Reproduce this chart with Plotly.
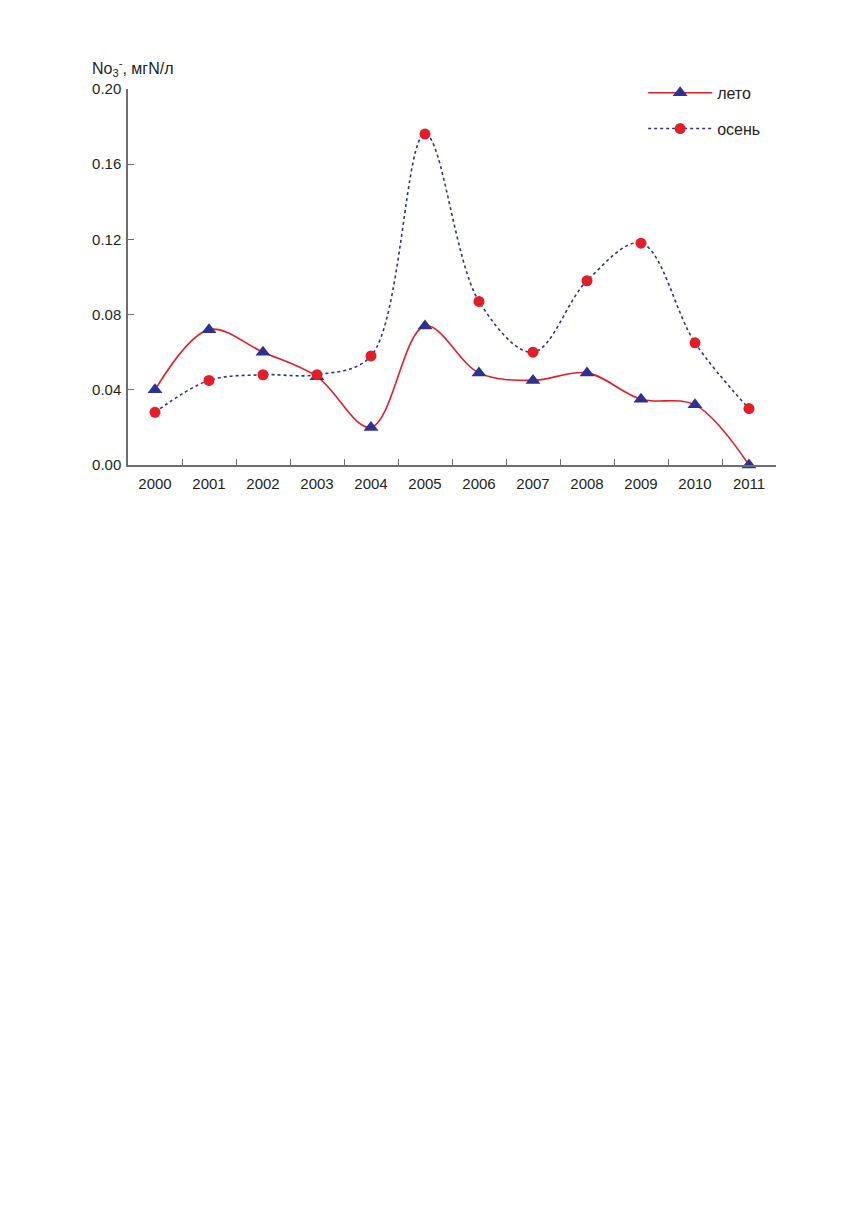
import plotly.graph_objects as go

years = ["2000", "2001", "2002", "2003", "2004", "2005",
         "2006", "2007", "2008", "2009", "2010", "2011"]
summer = [0.040, 0.072, 0.060, 0.047, 0.020, 0.074,
          0.049, 0.045, 0.049, 0.035, 0.032, 0.000]
autumn = [0.028, 0.045, 0.048, 0.048, 0.058, 0.176,
          0.087, 0.060, 0.098, 0.118, 0.065, 0.030]
y_ticks = [0.00, 0.04, 0.08, 0.12, 0.16, 0.20]

red = "#e41e26"
navy = "#2e3192"
axis_grey = "#6d6e71"
font = dict(family="Liberation Sans, Arial, sans-serif", size=15, color="#231f20")

fig = go.Figure()

fig.add_trace(go.Scatter(
    x=years,
    y=summer,
    mode="lines+markers",
    line=dict(color=red, width=1.6, shape="spline", smoothing=1.0),
    marker=dict(symbol="triangle-up", size=13, color=navy),
    cliponaxis=False,
    legendgroup="summer",
    name="лето",
))
fig.add_trace(go.Scatter(
    x=years,
    y=autumn,
    mode="lines+markers",
    line=dict(color=navy, width=1.6, dash="dot", shape="spline", smoothing=1.0),
    marker=dict(symbol="circle", size=11, color=red),
    cliponaxis=False,
    legendgroup="autumn",
    name="осень",
))

fig.update_xaxes(
    type="category",
    range=[-0.5, 11.5],
    showline=True,
    linecolor=axis_grey,
    linewidth=1.5,
    ticks="inside",
    tickson="boundaries",
    ticklen=6,
    tickcolor=axis_grey,
    ticklabelstandoff=4,
    showgrid=False,
    zeroline=False,
    tickfont=font,
)
fig.update_yaxes(
    range=[0, 0.2],
    tickvals=y_ticks,
    tickformat=".2f",
    showline=True,
    linecolor=axis_grey,
    linewidth=1.5,
    ticks="inside",
    ticklen=6,
    tickcolor=axis_grey,
    ticklabelstandoff=2,
    showgrid=False,
    zeroline=False,
    tickfont=font,
)

# axis title sits above the y axis, as in the source figure
fig.add_annotation(
    text="No<sub>3</sub><sup>-</sup>, мгN/л",
    xref="paper", yref="paper",
    x=-0.059, y=1.02,
    xanchor="left", yanchor="bottom",
    showarrow=False,
    font=dict(family=font["family"], size=16, color="#231f20"),
)

fig.update_layout(
    width=856,
    height=1227,
    margin=dict(l=120, r=88, t=81, b=770),
    paper_bgcolor="white",
    plot_bgcolor="white",
    font=font,
    legend=dict(
        x=0.795, y=1.035,
        xanchor="left", yanchor="top",
        itemwidth=64,
        tracegroupgap=12,
        font=dict(family=font["family"], size=16, color="#231f20"),
        bgcolor="rgba(0,0,0,0)",
    ),
)

fig.write_html("out.html")
